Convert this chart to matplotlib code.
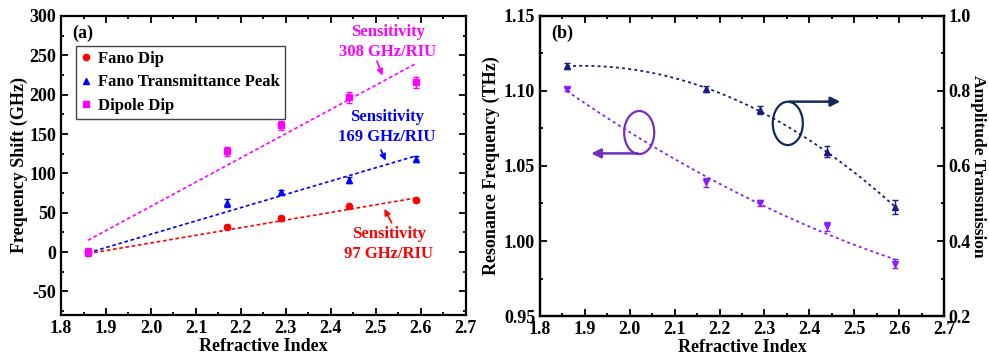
import numpy as np
import matplotlib
matplotlib.use('Agg')
import matplotlib.pyplot as plt
from matplotlib.patches import Ellipse
from matplotlib.lines import Line2D
from matplotlib.ticker import MultipleLocator, FormatStrFormatter

plt.rcParams['font.family'] = ['Liberation Serif', 'DejaVu Serif']
plt.rcParams['font.weight'] = 'bold'
plt.rcParams['axes.labelweight'] = 'bold'
plt.rcParams['axes.unicode_minus'] = False

# ---- data ----
n_index = [1.86, 2.17, 2.29, 2.44, 2.59]

# panel (a): frequency shift (GHz)
fano_dip = [0, 32, 43, 58, 66]
fano_dip_err = [3, 3, 3, 2, 2]
fano_peak = [0, 62, 76, 92, 118]
fano_peak_err = [4, 5, 3, 4, 4]
dipole_dip = [0, 128, 161, 197, 216]
dipole_dip_err = [5, 6, 6, 7, 7]

# linear fits: sensitivity (GHz/RIU) and offset at n = 1.86
sens = [97, 169, 308]
fit_offset = [-2, -1, 15]

# panel (b)
res_freq = [1.101, 1.039, 1.025, 1.010, 0.985]      # THz, left axis
res_freq_err = [0.001, 0.003, 0.002, 0.003, 0.003]
amp_trans = [0.867, 0.804, 0.749, 0.638, 0.491]    # right axis
amp_trans_err = [0.008, 0.008, 0.010, 0.015, 0.018]

red, blue, mag = '#FF0000', '#0000FF', '#FF00FF'
violet, navy = '#8A1CFF', '#1C1C7E'
dash = (0, (2.2, 1.6))
TICK = 13
LAB = 13

fig = plt.figure(figsize=(9.89, 3.6), dpi=100)
ax1 = fig.add_axes([0.0617, 0.125, 0.4093, 0.8306])
ax2 = fig.add_axes([0.546, 0.1222, 0.4085, 0.8334])


def style(ax, right=True):
    ax.tick_params(which='both', direction='in', top=True, right=right, labelsize=TICK, width=1.3)
    ax.tick_params(which='major', length=5)
    ax.tick_params(which='minor', length=2.5)
    for sp in ax.spines.values():
        sp.set_linewidth(1.6)


# ---- panel (a) ----
x = np.array(n_index)
xf = np.linspace(x[0], x[-1], 50)
series = [(fano_dip, fano_dip_err, red, 'o', 'Fano Dip'),
          (fano_peak, fano_peak_err, blue, '^', 'Fano Transmittance Peak'),
          (dipole_dip, dipole_dip_err, mag, 's', 'Dipole Dip')]
handles = []
for i, (y, e, c, m, lab) in enumerate(series):
    ax1.errorbar(x, y, yerr=e, fmt=m, color=c, ms=4.5, capsize=2.5, elinewidth=1, capthick=1)
    ax1.plot(xf, fit_offset[i] + sens[i] * (xf - x[0]), color=c, ls=dash, lw=1.2)
    handles.append(Line2D([], [], ls='none', marker=m, color=c, ms=4.5, label=lab))

ax1.set_xlim(1.8, 2.7)
ax1.set_ylim(-80, 300)
ax1.xaxis.set_major_locator(MultipleLocator(0.1))
ax1.xaxis.set_minor_locator(MultipleLocator(0.05))
ax1.xaxis.set_major_formatter(FormatStrFormatter('%.1f'))
ax1.yaxis.set_major_locator(MultipleLocator(50))
ax1.yaxis.set_minor_locator(MultipleLocator(25))
style(ax1)
ax1.set_xlabel('Refractive Index', fontsize=LAB, labelpad=1)
ax1.set_ylabel('Frequency Shift (GHz)', fontsize=LAB, labelpad=1)
ax1.text(1.825, 278, '(a)', fontsize=13, fontweight='bold', va='center')
leg = ax1.legend(handles=handles, loc='upper left', bbox_to_anchor=(0.037, 0.9), fontsize=12,
                 handlelength=0.6, handletextpad=0.4, borderpad=0.3, labelspacing=0.45,
                 borderaxespad=0, fancybox=False, edgecolor='#444444', framealpha=1)
leg.get_frame().set_linewidth(1.0)

ax1.text(2.527, 267, 'Sensitivity\n308 GHz/RIU', color=mag, fontsize=12, ha='center', va='center',
         linespacing=1.3)
ax1.annotate('', xy=(2.517, 221), xytext=(2.50, 246),
             arrowprops=dict(arrowstyle='-|>', color=mag, lw=1.2, mutation_scale=9))
ax1.text(2.524, 159, 'Sensitivity\n169 GHz/RIU', color=blue, fontsize=12, ha='center', va='center',
         linespacing=1.3)
ax1.annotate('', xy=(2.524, 113), xytext=(2.509, 133),
             arrowprops=dict(arrowstyle='-|>', color=blue, lw=1.2, mutation_scale=9))
ax1.text(2.529, 10, 'Sensitivity\n97 GHz/RIU', color=red, fontsize=12, ha='center', va='center',
         linespacing=1.3)
ax1.annotate('', xy=(2.516, 58), xytext=(2.538, 34),
             arrowprops=dict(arrowstyle='-|>', color=red, lw=1.2, mutation_scale=9))

# ---- panel (b) ----
ax2r = ax2.twinx()
ax2.errorbar(x, res_freq, yerr=res_freq_err, fmt='v', color=violet, ms=4.5, capsize=2.5,
             elinewidth=1, capthick=1)
p = np.polyfit(x, res_freq, 2)
ax2.plot(xf, np.polyval(p, xf), color=violet, ls=(0, (1.6, 1.8)), lw=1.3)

ax2r.errorbar(x, amp_trans, yerr=amp_trans_err, fmt='^', color=navy, ms=4.5, capsize=2.5,
              elinewidth=1, capthick=1)
q = np.polyfit(x, amp_trans, 2)
ax2r.plot(xf, np.polyval(q, xf), color=navy, ls=(0, (1.6, 1.8)), lw=1.3)

ax2.set_xlim(1.8, 2.7)
ax2.set_ylim(0.95, 1.15)
ax2r.set_ylim(0.2, 1.0)
ax2.xaxis.set_major_locator(MultipleLocator(0.1))
ax2.xaxis.set_minor_locator(MultipleLocator(0.05))
ax2.xaxis.set_major_formatter(FormatStrFormatter('%.1f'))
ax2.yaxis.set_major_locator(MultipleLocator(0.05))
ax2.yaxis.set_minor_locator(MultipleLocator(0.025))
ax2.yaxis.set_major_formatter(FormatStrFormatter('%.2f'))
ax2r.yaxis.set_major_locator(MultipleLocator(0.2))
ax2r.yaxis.set_minor_locator(MultipleLocator(0.1))
ax2r.yaxis.set_major_formatter(FormatStrFormatter('%.1f'))
style(ax2, right=False)
ax2r.tick_params(which='both', direction='in', labelsize=TICK, width=1.3)
ax2r.tick_params(which='major', length=5)
ax2r.tick_params(which='minor', length=2.5)
for sp in ax2r.spines.values():
    sp.set_linewidth(1.6)
ax2.set_xlabel('Refractive Index', fontsize=LAB, labelpad=1)
ax2.set_ylabel('Resonance Frequency (THz)', fontsize=LAB, labelpad=3)
ax2r.set_ylabel('Amplitude Transmission', fontsize=12.5, rotation=270, labelpad=11)
ax2.text(1.825, 1.1385, '(b)', fontsize=13, fontweight='bold', va='center')

# loop markers pointing to each axis
ax2.add_patch(Ellipse((2.021, 1.0723), 0.067, 0.0287, fill=False, ec='#7030C0', lw=1.6))
ax2.annotate('', xy=(1.908, 1.0584), xytext=(2.024, 1.0584),
             arrowprops=dict(arrowstyle='-|>', color='#7030C0', lw=1.8, mutation_scale=14))
ax2.add_patch(Ellipse((2.352, 1.0784), 0.067, 0.0289, fill=False, ec='#102A5C', lw=1.6))
ax2.annotate('', xy=(2.475, 1.0929), xytext=(2.35, 1.0929),
             arrowprops=dict(arrowstyle='-|>', color='#102A5C', lw=1.8, mutation_scale=14))

fig.savefig('out.png', dpi=100)
